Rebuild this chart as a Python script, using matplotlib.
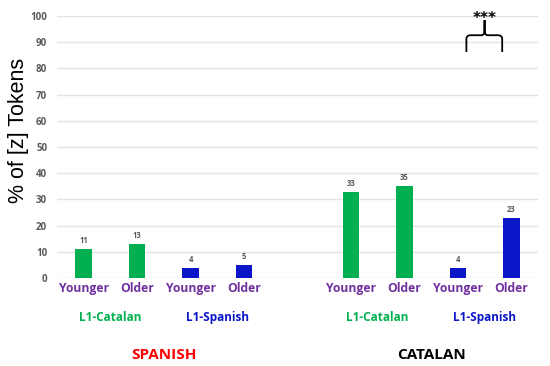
import numpy as np
import matplotlib.pyplot as plt
from matplotlib.path import Path
from matplotlib.patches import PathPatch

# Daten
positions = [0, 1, 2, 3, 5, 6, 7, 8]
values = [11, 13, 4, 5, 33, 35, 4, 23]
age_labels = ["Younger", "Older"] * 4
groups = ["L1-Catalan", "L1-Spanish", "L1-Catalan", "L1-Spanish"]
group_pos = [0.5, 2.5, 5.5, 7.5]
languages = ["SPANISH", "CATALAN"]
language_pos = [1.5, 6.5]

green = "#00B050"
blue = "#0B16C8"
purple = "#7030A0"
bar_colors = [green, green, blue, blue, green, green, blue, blue]
group_colors = [green, blue, green, blue]
language_colors = ["#FF0000", "black"]

plt.rcParams["font.family"] = ["Open Sans", "DejaVu Sans"]

fig = plt.figure(figsize=(5.5, 3.66), dpi=100)
ax = fig.add_axes([0.1036, 0.2404, 0.8746, 0.7156])

ax.bar(positions, values, width=0.31, color=bar_colors, zorder=3)
for x, v in zip(positions, values):
    ax.text(x, v + 1.5, str(v), ha="center", va="bottom", fontsize=5.5,
            color="#595959", fontweight="bold")

ax.set_xlim(-0.5, 8.5)
ax.set_ylim(0, 100)
ax.set_yticks(np.arange(0, 101, 10))
ax.grid(axis="y", color="#E3E3E3", linewidth=1, zorder=0)
for s in ax.spines.values():
    s.set_visible(False)
ax.tick_params(length=0)
ax.tick_params(axis="y", labelsize=7, labelcolor="#595959", pad=7)
for lbl in ax.get_yticklabels():
    lbl.set_fontweight("bold")

ax.set_xticks(positions)
ax.set_xticklabels(age_labels, fontsize=8.7, color=purple, fontweight="bold")
ax.tick_params(axis="x", pad=3)

ax.set_ylabel("% of [z] Tokens", fontsize=15.5, family="Liberation Sans")
ax.yaxis.set_label_coords(-0.058, 0.565)

trans = ax.get_xaxis_transform()
for x, g, c in zip(group_pos, groups, group_colors):
    ax.text(x, -0.149, g, transform=trans, ha="center", va="center",
            fontsize=8.5, color=c, fontweight="bold")
for x, l, c in zip(language_pos, languages, language_colors):
    ax.text(x, -0.294, l, transform=trans, ha="center", va="center",
            fontsize=11, color=c, fontweight="bold")

# Klammer mit Signifikanz
x0, x1, xm = 7.16, 7.83, 7.5
verts = [(x0, 86.3), (x0, 91.2), (x0, 92.7), (x0 + 0.08, 92.7),
         (xm - 0.06, 92.7), (xm, 92.7), (xm, 94.5),
         (xm, 98.5), (xm, 94.5),
         (xm, 92.7), (xm + 0.06, 92.7), (x1 - 0.08, 92.7),
         (x1, 92.7), (x1, 91.2), (x1, 86.3)]
codes = [Path.MOVETO, Path.LINETO, Path.CURVE3, Path.CURVE3,
         Path.LINETO, Path.CURVE3, Path.CURVE3,
         Path.LINETO, Path.LINETO,
         Path.CURVE3, Path.CURVE3, Path.LINETO,
         Path.CURVE3, Path.CURVE3, Path.LINETO]
ax.add_patch(PathPatch(Path(verts, codes), fill=False, lw=1.3, color="black",
                       clip_on=False, zorder=4))
ax.text(xm, 97.3, "***", ha="center", va="baseline", fontsize=11,
        fontweight="bold", family="DejaVu Sans", clip_on=False)

fig.savefig("out.png", dpi=100)
